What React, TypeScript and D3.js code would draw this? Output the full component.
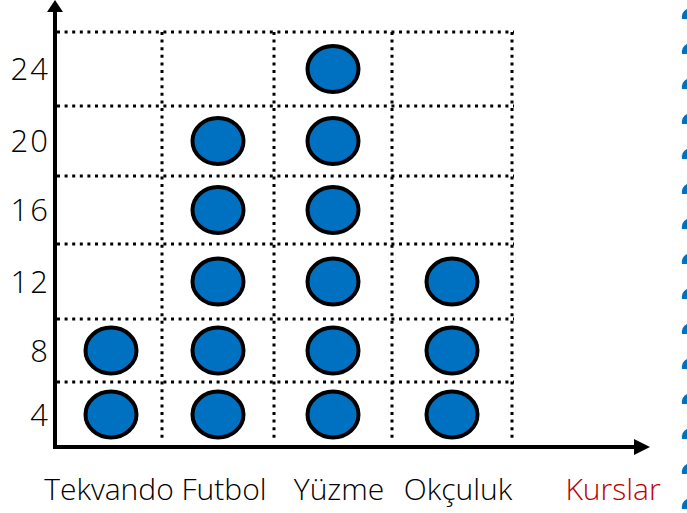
import React from "react";
import * as d3 from "d3";

const categories = ["Tekvando", "Futbol", "Yüzme", "Okçuluk"];
const symbolCounts = [2, 5, 6, 3]; // each symbol = 4 students
const unitValue = 4;
const yTickValues = [4, 8, 12, 16, 20, 24];
const xAxisTitle = "Kurslar";

const W = 687;
const H = 513;
const FONT = "'Open Sans', 'Noto Sans', sans-serif";

export default function App() {
  // hand-drawn grid: piecewise scales following the reference rows / columns
  const y = d3
    .scaleLinear()
    .domain([0, 4, 8, 12, 16, 20, 24])
    .range([447, 382, 319, 244, 176, 106, 32]);
  const col = d3.scaleLinear().domain([0, 1, 2, 3, 4]).range([60, 162, 274, 392, 512]);

  const axisX = 55;
  const axisY = y(0);
  const gridTop = y(24);
  const gridRight = col(4);

  const rowCenter = (v: number) => (y(v - unitValue) + y(v)) / 2;
  const colCenter = (i: number) => (col(i) + col(i + 1)) / 2;

  const symbols: { c: number; v: number; key: string }[] = [];
  categories.forEach((cat, i) => {
    d3.range(symbolCounts[i]).forEach((j) => {
      symbols.push({ c: i, v: (j + 1) * unitValue, key: `${cat}-${j}` });
    });
  });

  const decoYs = d3.range(15, H + 10, 35);

  return (
    <svg
      width={W}
      height={H}
      style={{ position: "absolute", left: 0, top: 0, background: "#fff" }}
    >
      {/* horizontal dotted grid lines */}
      {yTickValues.map((v) => (
        <line
          key={`h${v}`}
          x1={axisX + 2}
          x2={gridRight + 2}
          y1={y(v)}
          y2={y(v)}
          stroke="#000"
          strokeWidth={3}
          strokeDasharray="3 4.6"
        />
      ))}
      {/* vertical dotted grid lines */}
      {[1, 2, 3, 4].map((i) => (
        <line
          key={`v${i}`}
          x1={col(i)}
          x2={col(i)}
          y1={gridTop}
          y2={440}
          stroke="#000"
          strokeWidth={3}
          strokeDasharray="3 4.6"
        />
      ))}

      {/* axes */}
      <line x1={axisX} x2={axisX} y1={10} y2={axisY + 2} stroke="#000" strokeWidth={4} />
      <path d={`M${axisX - 8},12 L${axisX},0 L${axisX + 8},12 Z`} fill="#000" />
      <line x1={axisX - 2} x2={636} y1={axisY} y2={axisY} stroke="#000" strokeWidth={4} />
      <path d={`M634,${axisY - 8} L650,${axisY} L634,${axisY + 8} Z`} fill="#000" />

      {/* symbols */}
      {symbols.map((s) => (
        <ellipse
          key={s.key}
          cx={colCenter(s.c)}
          cy={rowCenter(s.v)}
          rx={25.5}
          ry={23}
          fill="#0070c0"
          stroke="#000"
          strokeWidth={4}
        />
      ))}

      {/* y tick labels */}
      {yTickValues.map((v) => (
        <text
          key={`t${v}`}
          x={50}
          y={rowCenter(v)}
          dy="0.36em"
          textAnchor="end"
          fontFamily={FONT}
          fontWeight={300}
          fontSize={31}
          letterSpacing={2}
          fill="#000"
        >
          {v}
        </text>
      ))}

      {/* category labels */}
      {categories.map((c, i) => (
        <text
          key={c}
          x={colCenter(i) + (i === 0 ? -2 : 6)}
          y={500}
          textAnchor="middle"
          fontFamily={FONT}
          fontWeight={300}
          fontSize={30}
          fill="#000"
        >
          {c}
        </text>
      ))}
      <text
        x={613}
        y={500}
        textAnchor="middle"
        fontFamily={FONT}
        fontWeight={300}
        fontSize={30}
        fill="#c00000"
      >
        {xAxisTitle}
      </text>

      {/* right edge decoration */}
      {decoYs.map((dy) => (
        <path
          key={`d${dy}`}
          d={`M687,${dy - 6} Q681,${dy - 3} 682,${dy + 4} L687,${dy + 4} Z`}
          fill="#0070c0"
        />
      ))}
    </svg>
  );
}
